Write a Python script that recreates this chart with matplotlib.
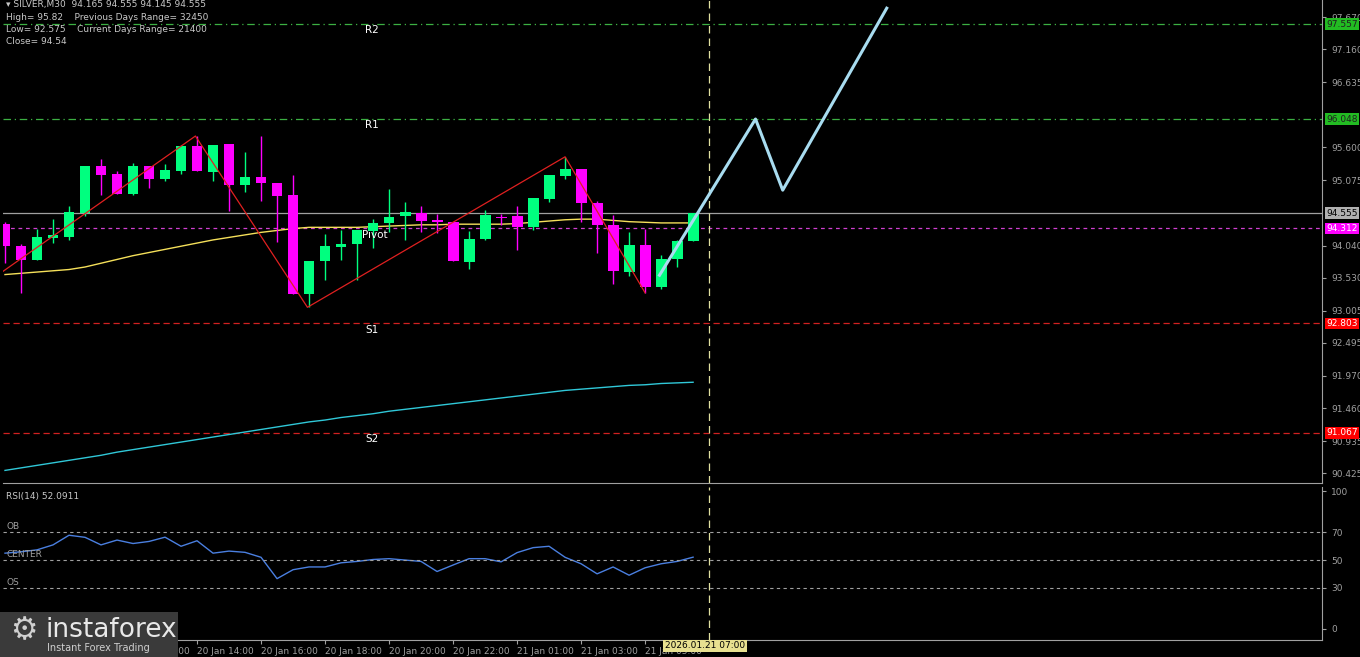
import numpy as np
import matplotlib
matplotlib.use("Agg")
import matplotlib.pyplot as plt

# candle data (open, high, low, close), SILVER M30
opens = [94.381, 94.032, 93.809, 94.159, 94.174, 94.556, 95.302, 95.175, 94.857, 95.302,
         95.095, 95.223, 95.620, 95.207, 95.651, 95.000, 95.127, 95.032, 94.841, 93.269,
         93.793, 94.016, 94.063, 94.270, 94.397, 94.508, 94.556, 94.444, 94.413, 93.777,
         94.143, 94.492, 94.508, 94.333, 94.778, 95.143, 95.254, 94.714, 94.365, 93.619,
         94.047, 93.380, 93.825, 94.111]
highs = [94.410, 94.063, 94.302, 94.460, 94.667, 95.302, 95.413, 95.223, 95.350, 95.302,
         95.334, 95.635, 95.778, 95.635, 95.651, 95.524, 95.778, 95.032, 95.159, 93.793,
         94.222, 94.286, 94.286, 94.460, 94.937, 94.730, 94.667, 94.540, 94.413, 94.270,
         94.603, 94.540, 94.667, 94.794, 95.159, 95.445, 95.254, 94.746, 94.524, 94.254,
         94.302, 93.889, 94.127, 94.555]
lows = [93.762, 93.285, 93.809, 94.079, 94.127, 94.508, 94.841, 94.857, 94.841, 94.953,
        95.064, 95.175, 95.223, 95.064, 94.587, 94.889, 94.746, 94.095, 93.269, 93.063,
        93.492, 93.809, 93.492, 94.000, 94.254, 94.127, 94.254, 94.238, 93.793, 93.666,
        94.127, 94.365, 93.968, 94.286, 94.730, 95.095, 94.413, 93.920, 93.428, 93.555,
        93.285, 93.349, 93.698, 94.111]
closes = [94.032, 93.809, 94.174, 94.206, 94.571, 95.302, 95.159, 94.857, 95.302, 95.095,
          95.238, 95.620, 95.223, 95.635, 95.000, 95.127, 95.032, 94.826, 93.269, 93.793,
          94.032, 94.063, 94.286, 94.397, 94.492, 94.571, 94.429, 94.413, 93.793, 94.143,
          94.524, 94.476, 94.333, 94.794, 95.159, 95.254, 94.714, 94.365, 93.635, 94.047,
          93.380, 93.825, 94.111, 94.555]

ma_fast = [93.58, 93.60, 93.62, 93.64, 93.66, 93.70, 93.76, 93.82, 93.88, 93.93,
           93.98, 94.03, 94.08, 94.13, 94.17, 94.21, 94.25, 94.28, 94.31, 94.33,
           94.33, 94.33, 94.33, 94.34, 94.35, 94.36, 94.37, 94.37, 94.38, 94.38,
           94.38, 94.38, 94.39, 94.41, 94.43, 94.45, 94.46, 94.46, 94.44, 94.42,
           94.41, 94.40, 94.40, 94.40]
ma_slow = [90.47, 90.51, 90.55, 90.59, 90.63, 90.67, 90.71, 90.76, 90.80, 90.84,
           90.88, 90.92, 90.96, 91.00, 91.04, 91.08, 91.12, 91.16, 91.20, 91.24,
           91.27, 91.31, 91.34, 91.37, 91.41, 91.44, 91.47, 91.50, 91.53, 91.56,
           91.59, 91.62, 91.65, 91.68, 91.71, 91.74, 91.76, 91.78, 91.80, 91.82,
           91.83, 91.85, 91.86, 91.87]
rsi = [55, 56, 57.4, 61, 68, 66.5, 61, 64.5, 62, 63.5, 66.6, 60, 64, 55, 56.5, 55.6, 52,
       36.5, 43, 45, 45, 48, 49, 50.4, 51, 50, 49, 41.7, 46.4, 51, 51, 48.7, 55.4, 59, 60,
       52, 47.3, 40, 45, 39, 44.4, 47.3, 49, 52.1]

zigzag_x = [-0.3, 11.9, 18.9, 35.0, 40.0]
zigzag_y = [93.60, 95.78, 93.06, 95.45, 93.29]
forecast_x = [40.9, 46.9, 48.6, 55.1]
forecast_y = [93.57, 96.05, 94.92, 97.81]

levels = {"R2": 97.557, "R1": 96.048, "Pivot": 94.312, "S1": 92.803, "S2": 91.067}
last_price = 94.555
price_ticks = [97.670, 97.160, 96.635, 95.600, 95.075, 94.040, 93.530, 93.005,
               92.495, 91.970, 91.460, 90.935, 90.425]
time_idx = [0, 4, 8, 12, 16, 20, 24, 28, 32, 36, 40]
time_labels = ["20 Jan 2026", "20 Jan 10:00", "20 Jan 12:00", "20 Jan 14:00", "20 Jan 16:00",
               "20 Jan 18:00", "20 Jan 20:00", "20 Jan 22:00", "21 Jan 01:00", "21 Jan 03:00",
               "21 Jan 05:00"]

W, H = 1360, 657
fig = plt.figure(figsize=(W / 100, H / 100), dpi=100, facecolor="black")
ax = fig.add_axes([3 / W, 1 - 483 / H, 1319 / W, 483 / H], facecolor="black")
ax2 = fig.add_axes([3 / W, 1 - 640 / H, 1319 / W, 153 / H], facecolor="black", sharex=ax)

bull, bear = "#00ff7f", "#ff00ff"
x = np.arange(len(opens))
o, h, l, c = map(np.array, (opens, highs, lows, closes))
cols = np.where(c >= o, bull, bear)
ax.vlines(x, l, h, colors=cols, lw=1, zorder=3)
ax.bar(x, np.maximum(np.abs(c - o), 0.012), 0.68, bottom=np.minimum(o, c), color=cols, zorder=4)

ax.plot(x, ma_fast, color="#f5e05a", lw=1, zorder=2)
ax.plot(x, ma_slow, color="#30c8d8", lw=1, zorder=2)
ax.plot(zigzag_x, zigzag_y, color="#e02020", lw=0.9, zorder=5)
ax.plot(forecast_x, forecast_y, color="#a8dcf0", lw=2.2, zorder=6)

lvl_style = {"R2": ("#3cb043", (0, (6, 3, 1, 3))), "R1": ("#3cb043", (0, (6, 3, 1, 3))),
             "Pivot": ("#d040d0", (0, (3, 3))), "S1": ("#d02020", (0, (5, 3))),
             "S2": ("#d02020", (0, (5, 3)))}
box_col = {"R2": "#22bb22", "R1": "#22bb22", "Pivot": "#ff00ff", "S1": "#ff0000", "S2": "#ff0000"}
for name, val in levels.items():
    col, ls = lvl_style[name]
    ax.axhline(val, color=col, lw=0.9, ls=ls, zorder=1)
    ax.text(22.5 if name != "Pivot" else 22.3, val - 0.1, name, color="white", fontsize=7.5,
            va="center", ha="left")
    ax.text(1.003, val, f"{val:.3f}", transform=ax.get_yaxis_transform(), fontsize=6.5,
            color="#202020" if name in ("R2", "R1") else "white", va="center", ha="left",
            bbox=dict(boxstyle="square,pad=0.15", fc=box_col[name], ec="none"), zorder=10)
ax.axhline(last_price, color="#a0a0a0", lw=0.9, zorder=1)
ax.text(1.003, last_price, f"{last_price:.3f}", transform=ax.get_yaxis_transform(),
        fontsize=6.5, color="black", va="center", ha="left",
        bbox=dict(boxstyle="square,pad=0.15", fc="#b0b0b0", ec="none"), zorder=10)

for a in (ax, ax2):
    a.axvline(44, color="#e0e0a0", lw=0.9, ls=(0, (6, 4)))
    for s in a.spines.values():
        s.set_color("#a0a0a0")
    a.spines["left"].set_visible(False)
    a.spines["top"].set_visible(False)
    a.yaxis.tick_right()
    a.tick_params(colors="#a0a0a0", labelsize=6.5, length=3, width=0.8)

ax.set_xlim(-0.125, 82.3)
ax.set_ylim(90.27, 97.94)
ax.set_yticks(price_ticks)
ax.set_yticklabels([f"{t:.3f}" for t in price_ticks])
ax.tick_params(axis="x", bottom=False, labelbottom=False)

hdr = [("\u25be SILVER,M30  94.165 94.555 94.145 94.555", 5),
       ("High= 95.82    Previous Days Range= 32450", 17),
       ("Low= 92.575    Current Days Range= 21400", 29),
       ("Close= 94.54", 41)]
for txt, yy in hdr:
    fig.text(6 / W, 1 - yy / H, txt, color="#c8c8c8", fontsize=6.5, va="center")

ax2.plot(x, rsi, color="#4a7fe0", lw=1)
for lv in (70, 50, 30):
    ax2.axhline(lv, color="#a0a0a0", lw=0.8, ls=(0, (3, 3)))
ax2.set_ylim(-8, 100.5 * 1.04)
ax2.set_ylim(-8, 103)
ax2.set_yticks([0, 30, 50, 70, 100])
ax2.set_xticks(time_idx)
ax2.set_xticklabels(time_labels, ha="left")
ax2.tick_params(axis="x", length=3, pad=2)
ax2.text(0.5 / 1319 * 83, 96, "RSI(14) 52.0911", color="#c8c8c8", fontsize=6.5, va="center")
ax2.text(0.1, 74, "OB", color="#a0a0a0", fontsize=6.5, va="center")
ax2.text(0.1, 54, "CENTER", color="#a0a0a0", fontsize=6.5, va="center")
ax2.text(0.1, 34, "OS", color="#a0a0a0", fontsize=6.5, va="center")

fig.text(745 / W, 1 - 646 / H, "2026.01.21 07:00", fontsize=6.5, color="black", ha="right",
         va="center", bbox=dict(boxstyle="square,pad=0.2", fc="#e8e090", ec="none"))

# logo
fig.patches.append(plt.Rectangle((0, 0), 178 / W, 45 / H, transform=fig.transFigure,
                                 fc="#3a3a3a", ec="none", zorder=20))
fig.text(10 / W, 1 - 631 / H, "\u2699", fontsize=22, color="#d0d0d0", va="center", zorder=21)
fig.text(45 / W, 1 - 630 / H, "instaforex", fontsize=19, color="#e8e8e8", va="center", zorder=21)
fig.text(47 / W, 1 - 648 / H, "Instant Forex Trading", fontsize=7, color="#d0d0d0",
         va="center", zorder=21)

fig.savefig("out.png", dpi=100, facecolor="black")
